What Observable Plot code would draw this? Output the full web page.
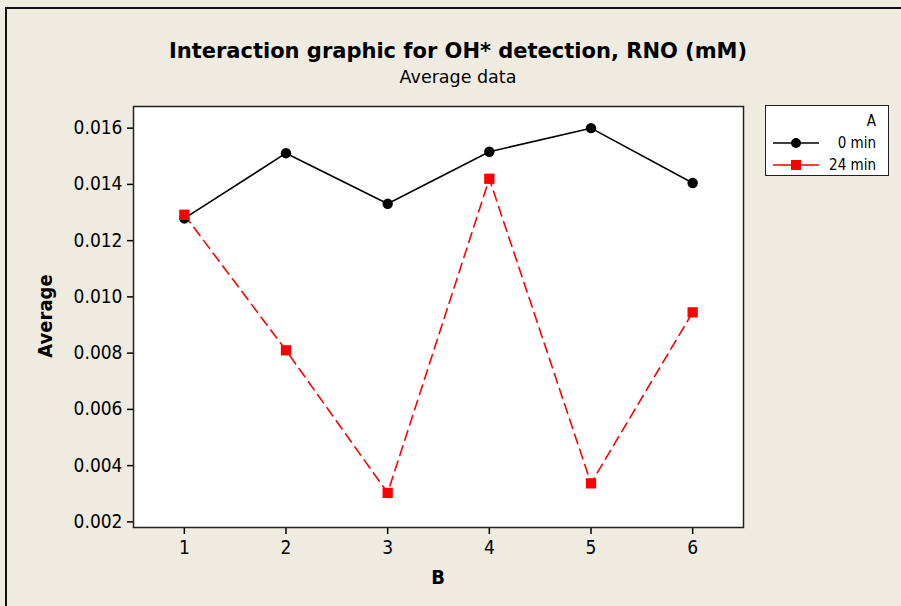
<!DOCTYPE html>
<html>
<head>
<meta charset="utf-8">
<script src="https://cdn.jsdelivr.net/npm/d3@7"></script>
<script src="https://cdn.jsdelivr.net/npm/@observablehq/plot@0.6"></script>
<style>
  html, body { margin: 0; padding: 0; background: #efebe1; }
  #chart { position: relative; width: 901px; height: 606px; overflow: hidden; background: #efebe1;
           font-family: "DejaVu Sans Condensed", "DejaVu Sans", sans-serif; color: #000; }
  #edge { position: absolute; left: 5px; top: 7px; right: -10px; bottom: -10px;
          border-left: 2px solid #111; border-top: 2px solid #111; }
  .title { position: absolute; left: 0; width: 916px; text-align: center; white-space: nowrap; }
  #t1 { top: 39px; font-size: 21px; font-weight: bold; font-family: "DejaVu Sans", sans-serif; }
  #t2 { top: 67px; font-size: 17.5px; font-family: "DejaVu Sans", sans-serif; }
  #plot { position: absolute; left: 0; top: 0; }
  #legend { position: absolute; left: 765px; top: 105px; width: 124px; height: 71px;
            border: 1.5px solid #222; background: #fff; box-sizing: border-box; font-size: 15px; }
  #legend .hdr { position: absolute; right: 12px; top: 6px; }
  #legend .row { position: absolute; left: 6px; right: 12px; height: 20px; display: flex; align-items: center; }
  #legend .row span { margin-left: auto; }
  .axlab { position: absolute; font-weight: bold; font-size: 20px; white-space: nowrap; }
  #ylab { left: 45px; top: 316px; transform: translate(-50%, -50%) rotate(-90deg); }
  #xlab { left: 438px; top: 577px; transform: translate(-50%, -50%); }
</style>
</head>
<body>
<div id="chart">
  <div id="edge"></div>
  <div id="plot"></div>
  <div class="title" id="t1">Interaction graphic for OH* detection, RNO (mM)</div>
  <div class="title" id="t2">Average data</div>
  <div class="axlab" id="ylab">Average</div>
  <div class="axlab" id="xlab">B</div>
  <div id="legend"></div>
</div>
<script>
// Levels of factor B
const levelsB = [1, 2, 3, 4, 5, 6];
// Mean RNO (mM) for each level of factor A
const avg0min  = [0.01279, 0.01511, 0.01331, 0.01516, 0.01600, 0.01405];
const avg24min = [0.01292, 0.00810, 0.00303, 0.01420, 0.00337, 0.00945];
const yTicks = [0.002, 0.004, 0.006, 0.008, 0.010, 0.012, 0.014, 0.016];
const seriesA = ["0 min", "24 min"];

const rows0 = levelsB.map((b, i) => ({B: b, v: avg0min[i]}));
const rows24 = levelsB.map((b, i) => ({B: b, v: avg24min[i]}));

const plot = Plot.plot({
  width: 901,
  height: 606,
  marginLeft: 133,
  marginRight: 158,
  marginTop: 106,
  marginBottom: 79,
  style: {background: "transparent", fontFamily: "'DejaVu Sans Condensed', 'DejaVu Sans', sans-serif", fontSize: "19px", color: "#000"},
  x: {domain: [0.5, 6.5]},
  y: {domain: [0.0018, 0.01677]},
  marks: [
    Plot.frame({fill: "white", stroke: "none"}),
    Plot.axisY({ticks: yTicks, tickSize: 6, tickPadding: 5, tickFormat: d3.format(".3f"), label: null, strokeWidth: 1.5}),
    Plot.axisX({ticks: levelsB, tickSize: 7, tickPadding: 6, tickFormat: d3.format("d"), label: null, strokeWidth: 1.5}),
    Plot.line(rows0, {x: "B", y: "v", stroke: "#000", strokeWidth: 1.6}),
    Plot.line(rows24, {x: "B", y: "v", stroke: "#ff0000", strokeWidth: 1.6, strokeDasharray: "10,6"}),
    Plot.dot(rows0, {x: "B", y: "v", r: 5.2, fill: "#000", stroke: "none"}),
    Plot.dot(rows24, {x: "B", y: "v", r: 5.8, symbol: "square", fill: "#ff0000", stroke: "none"}),
    Plot.frame({stroke: "#222", strokeWidth: 1.5})
  ]
});
document.getElementById("plot").appendChild(plot);

// Legend for factor A
const legend = document.getElementById("legend");
legend.innerHTML = `<div class="hdr">A</div>` + seriesA.map((name, i) => {
  const isRed = i === 1;
  const col = isRed ? "#ff0000" : "#000";
  const marker = isRed
    ? `<rect x="19" y="5" width="10" height="10" fill="${col}"/>`
    : `<circle cx="24" cy="10" r="5" fill="${col}"/>`;
  return `<div class="row" style="top:${27 + i * 22}px">
    <svg width="48" height="20"><line x1="1" x2="47" y1="10" y2="10" stroke="${col}" stroke-width="1.5"/>${marker}</svg>
    <span>${name}</span></div>`;
}).join("");
</script>
</body>
</html>
